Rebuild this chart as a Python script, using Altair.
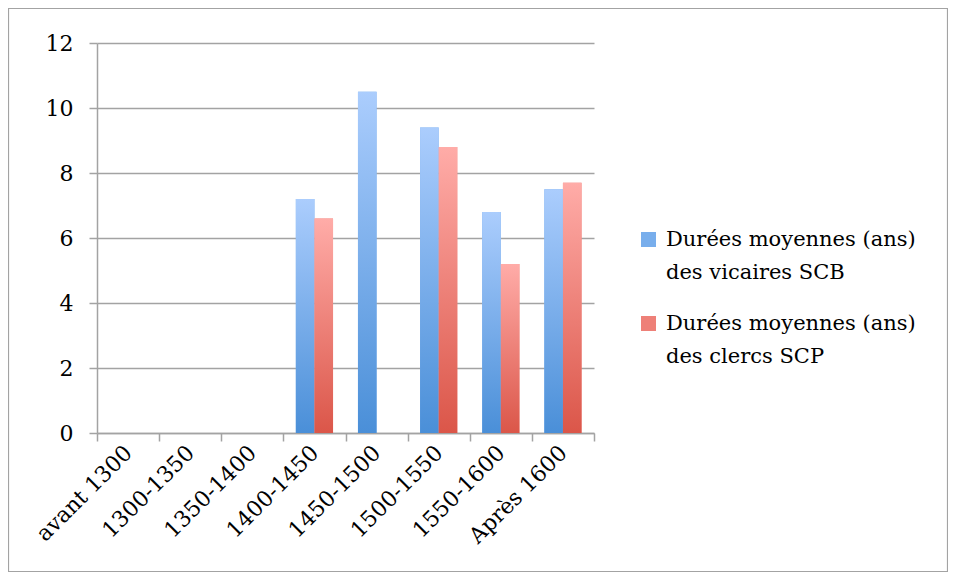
import altair as alt
import pandas as pd

periods = ["avant 1300", "1300-1350", "1350-1400", "1400-1450", "1450-1500",
           "1500-1550", "1550-1600", "Après 1600"]
series = ["Durées moyennes (ans)\ndes vicaires SCB", "Durées moyennes (ans)\ndes clercs SCP"]
vicaires = [None, None, None, 7.2, 10.5, 9.4, 6.8, 7.5]
clercs = [None, None, None, 6.6, None, 8.8, 5.2, 7.7]
y_ticks = [0, 2, 4, 6, 8, 10, 12]

rows = []
for p, v, c in zip(periods, vicaires, clercs):
    if v is not None:
        rows.append({"period": p, "series": series[0], "value": v})
    if c is not None:
        rows.append({"period": p, "series": series[1], "value": c})
df = pd.DataFrame(rows)

FONT = "DejaVu Serif"
FS = 21
AFS = 22
GRAY = "#a3a3a3"

blue_grad = alt.Gradient(gradient="linear", x1=0, y1=0, x2=0, y2=1,
                         stops=[alt.GradientStop(color="#abcdfd", offset=0),
                                alt.GradientStop(color="#4a8fd8", offset=1)])
red_grad = alt.Gradient(gradient="linear", x1=0, y1=0, x2=0, y2=1,
                        stops=[alt.GradientStop(color="#ffaca8", offset=0),
                               alt.GradientStop(color="#db5649", offset=1)])

x_enc = alt.X("period:N", sort=periods, title=None,
              scale=alt.Scale(domain=periods, paddingInner=0, paddingOuter=0),
              axis=alt.Axis(labelAngle=-45, labelAlign="right", labelBaseline="middle",
                            tickBand="extent", tickSize=8, tickColor=GRAY, tickWidth=1.5,
                            domainColor=GRAY, domainWidth=1.5, labelPadding=8,
                            labelFontSize=AFS, labelFont=FONT, labelColor="black",
                            grid=False))
xo_enc = alt.XOffset("series:N", sort=series,
                     scale=alt.Scale(domain=series, paddingInner=0, paddingOuter=0.67))
y_enc = alt.Y("value:Q", title=None,
              scale=alt.Scale(domain=[0, 12], nice=False),
              axis=alt.Axis(values=y_ticks, tickSize=8, tickColor=GRAY, tickWidth=1.5,
                            domainColor=GRAY, domainWidth=1.5, gridColor=GRAY, gridWidth=1.5,
                            labelPadding=16, labelFontSize=AFS, labelFont=FONT,
                            labelColor="black"))

base = alt.Chart(df).encode(x=x_enc, xOffset=xo_enc, y=y_enc)

solid = base.mark_bar().encode(
    color=alt.Color("series:N", sort=series,
                    scale=alt.Scale(domain=series, range=["#78aeec", "#ee8078"]),
                    legend=alt.Legend(title=None, orient="none", legendX=541, legendY=186,
                                      symbolType="square", symbolSize=225,
                                      symbolStrokeWidth=0, labelFontSize=FS,
                                      labelFont=FONT, labelColor="black", labelOffset=7,
                                      labelLimit=400, rowPadding=29,
                                      labelExpr="split(datum.label, '\\n')"))
)
blue = base.transform_filter(alt.datum.series == series[0]).mark_bar(color=blue_grad)
red = base.transform_filter(alt.datum.series == series[1]).mark_bar(color=red_grad)

frame = alt.Chart(pd.DataFrame({"a": [0]})).mark_rect(
    fill=None, stroke=GRAY, strokeWidth=1.2, clip=False
).encode(x=alt.value(-88.5), x2=alt.value(850.5), y=alt.value(-34.5), y2=alt.value(528.5))

chart = alt.layer(frame, solid, blue, red).properties(
    width=497, height=390,
    autosize=alt.AutoSizeParams(type="none"),
    padding={"left": 89, "top": 35, "right": 354, "bottom": 139},
).configure(font=FONT, style={"guide-label": {"lineHeight": 33}}).configure_view(stroke=None)

chart.save("out.html", embed_options={"renderer": "svg", "actions": False})
